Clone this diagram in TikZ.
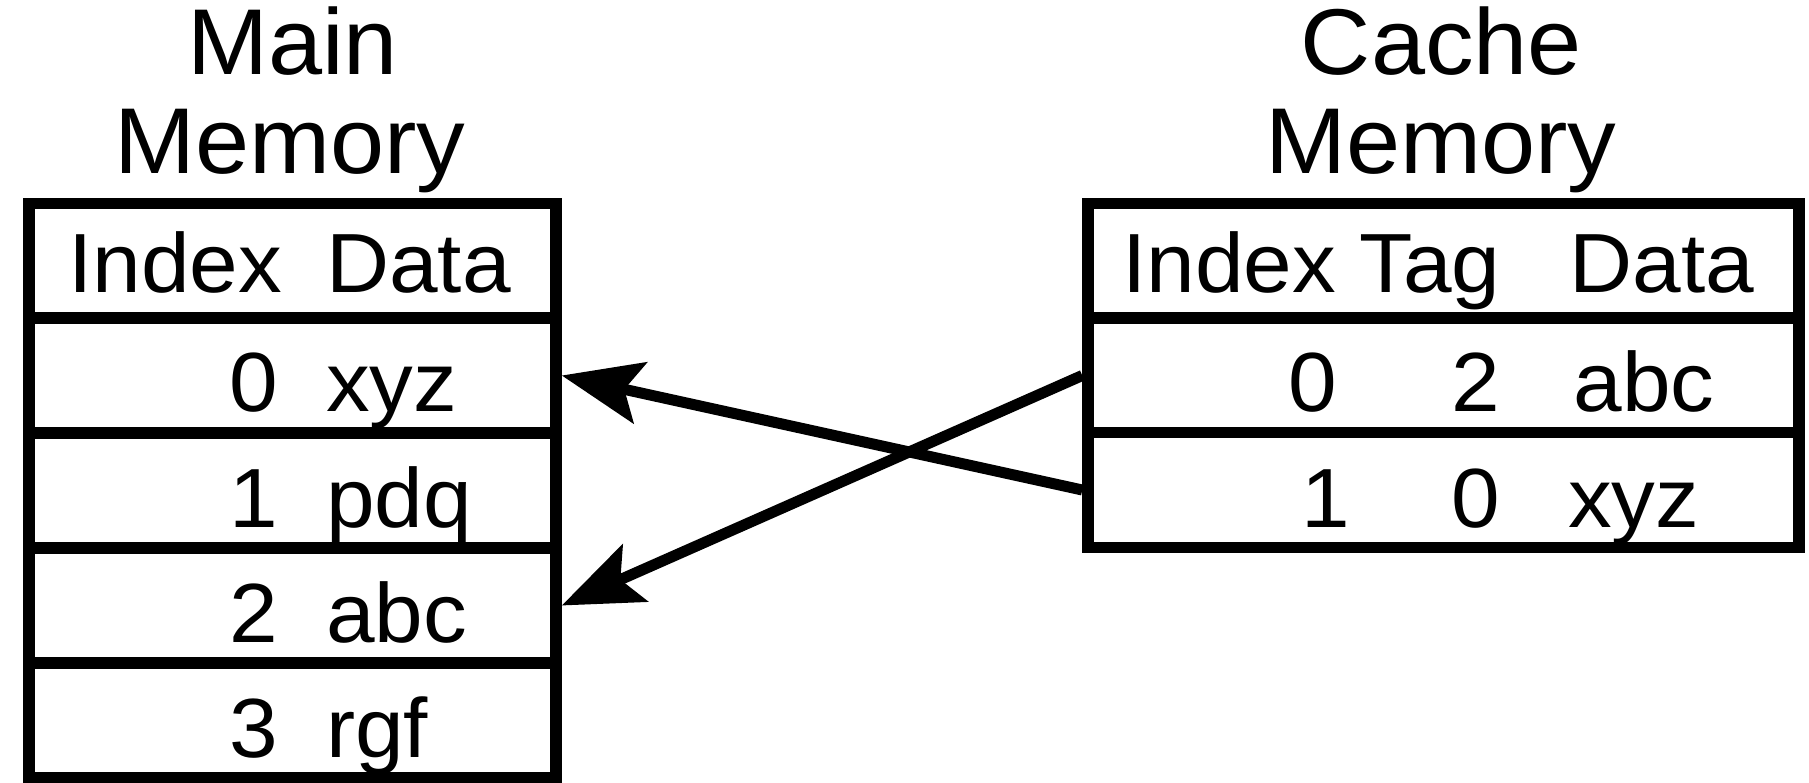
\documentclass[tikz,border=0pt]{standalone}
\usepackage{fontspec}
\setmainfont{Liberation Sans}[FakeStretch=1.04]
\usetikzlibrary{arrows.meta}
\begin{document}
\begin{tikzpicture}[x=1pt,y=-1pt,
  cellbase/.style={draw=black, line width=11.5pt, fill=white, inner sep=0pt, minimum height=115pt},
  mcell/.style={cellbase, minimum width=527pt},
  ccell/.style={cellbase, minimum width=711pt},
  txt/.style={inner sep=0pt, anchor=base, font=\fontsize{84}{84}\selectfont},
  ttl/.style={inner sep=0pt, anchor=base, font=\fontsize{93.5}{93.5}\selectfont},
  arr/.style={line width=11pt, -{Stealth[length=80pt,width=62pt,inset=16pt]}}]
\useasboundingbox[fill=white] (0,0) rectangle (1809,783);
% titles
\node[ttl] (mt1) at (292.5,75) {Main};
\node[ttl] (mt2) at (290,174) {Memory};
\node[ttl] (ct1) at (1441.5,75) {Cache};
\node[ttl] (ct2) at (1441,174) {Memory};
% main memory table
\node[mcell] (mh) at (292.5,261) {};
\node[mcell] (m0) at (292.5,375.5) {};
\node[mcell] (m1) at (292.5,490.5) {};
\node[mcell] (m2) at (292.5,605.5) {};
\node[mcell] (m3) at (292.5,720.5) {};
\node[txt] (mhi) at (175,293) {Index};
\node[txt, anchor=base west] (mhd) at (326,293) {Data};
\node[txt, anchor=base east] (m0i) at (278,411) {0};
\node[txt, anchor=base west] (m0d) at (326,411) {xyz};
\node[txt, anchor=base east] (m1i) at (278,527) {1};
\node[txt, anchor=base west] (m1d) at (326,527) {pdq};
\node[txt, anchor=base east] (m2i) at (278,642) {2};
\node[txt, anchor=base west] (m2d) at (326,642) {abc};
\node[txt, anchor=base east] (m3i) at (278,757) {3};
\node[txt, anchor=base west] (m3d) at (326,757) {rgf};
% cache memory table
\node[ccell] (ch) at (1443.5,261) {};
\node[ccell] (c0) at (1443.5,375.5) {};
\node[ccell] (c1) at (1443.5,490) {};
\node[txt] (chi) at (1229,293) {Index};
\node[txt] (cht) at (1430,293) {Tag};
\node[txt] (chd) at (1662,293) {Data};
\node[txt] (c0i) at (1313,411) {0};
\node[txt] (c0t) at (1475.5,411) {2};
\node[txt] (c0d) at (1644,411) {abc};
\node[txt] (c1i) at (1326,527) {1};
\node[txt] (c1t) at (1475.5,527) {0};
\node[txt] (c1d) at (1633.5,527) {xyz};
% connectors
\draw[arr] (c1.west) -- (m0.east);
\draw[arr] (c0.west) -- (m2.east);
\end{tikzpicture}
\end{document}
